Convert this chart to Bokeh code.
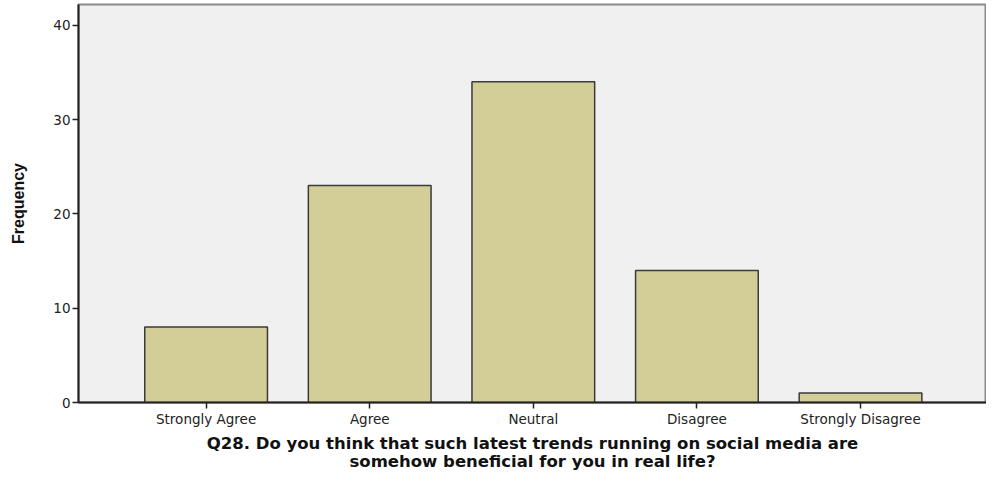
from bokeh.plotting import figure
from bokeh.models import FixedTicker, ColumnDataSource, Range1d
from bokeh.embed import file_html
from bokeh.resources import INLINE

categories = ["Strongly Agree", "Agree", "Neutral", "Disagree", "Strongly Disagree"]
frequency = [8, 23, 34, 14, 1]
y_ticks = [0, 10, 20, 30, 40]

xs = list(range(len(categories)))
src = ColumnDataSource(dict(x=xs, top=frequency))

p = figure(width=986, height=473, output_backend="svg", toolbar_location=None,
           x_range=Range1d(-0.78, len(categories) - 1 + 0.77), y_range=Range1d(0, 42.2))
p.min_border_left = 78
p.min_border_right = 0
p.min_border_top = 4
p.min_border_bottom = 0
p.background_fill_color = "#f0f0f0"
p.border_fill_color = "white"
p.outline_line_color = "#8a8a8a"
p.outline_line_width = 2
p.xgrid.visible = False
p.ygrid.visible = False

p.vbar(x="x", top="top", bottom=0, width=0.75, source=src,
       fill_color="#d3ce98", line_color="#3a3a3a", line_width=1.5)

p.xaxis.ticker = FixedTicker(ticks=xs)
p.xaxis.major_label_overrides = {i: c for i, c in enumerate(categories)}
p.yaxis.ticker = FixedTicker(ticks=y_ticks)
for ax in (p.xaxis[0], p.yaxis[0]):
    ax.axis_line_color = "#222222"
    ax.axis_line_width = 2
    ax.major_tick_line_color = "#222222"
    ax.major_tick_line_width = 1.5
    ax.major_tick_out = 6
    ax.major_tick_in = 0
    ax.minor_tick_line_color = None
    ax.major_label_text_font = "DejaVu Sans"
    ax.major_label_text_font_size = "13.5px"
    ax.major_label_text_color = "#222222"
    ax.axis_label_text_font_style = "bold"
    ax.axis_label_text_color = "#111111"

p.xaxis.major_label_standoff = 2
p.yaxis.major_label_standoff = 2
p.xaxis.axis_label = "Q28. Do you think that such latest trends running on social media are\nsomehow beneficial for you in real life?"
p.xaxis.axis_label_text_font = "DejaVu Sans"
p.xaxis.axis_label_text_font_size = "16.5px"
p.xaxis.axis_label_text_line_height = 0.95
p.xaxis.axis_label_standoff = 4
p.yaxis.axis_label = "Frequency"
p.yaxis.axis_label_text_font = "Liberation Sans Narrow, Liberation Sans"
p.yaxis.axis_label_text_font_size = "16px"
p.yaxis.axis_label_standoff = 23

open("out.html", "w").write(file_html(p, INLINE))
